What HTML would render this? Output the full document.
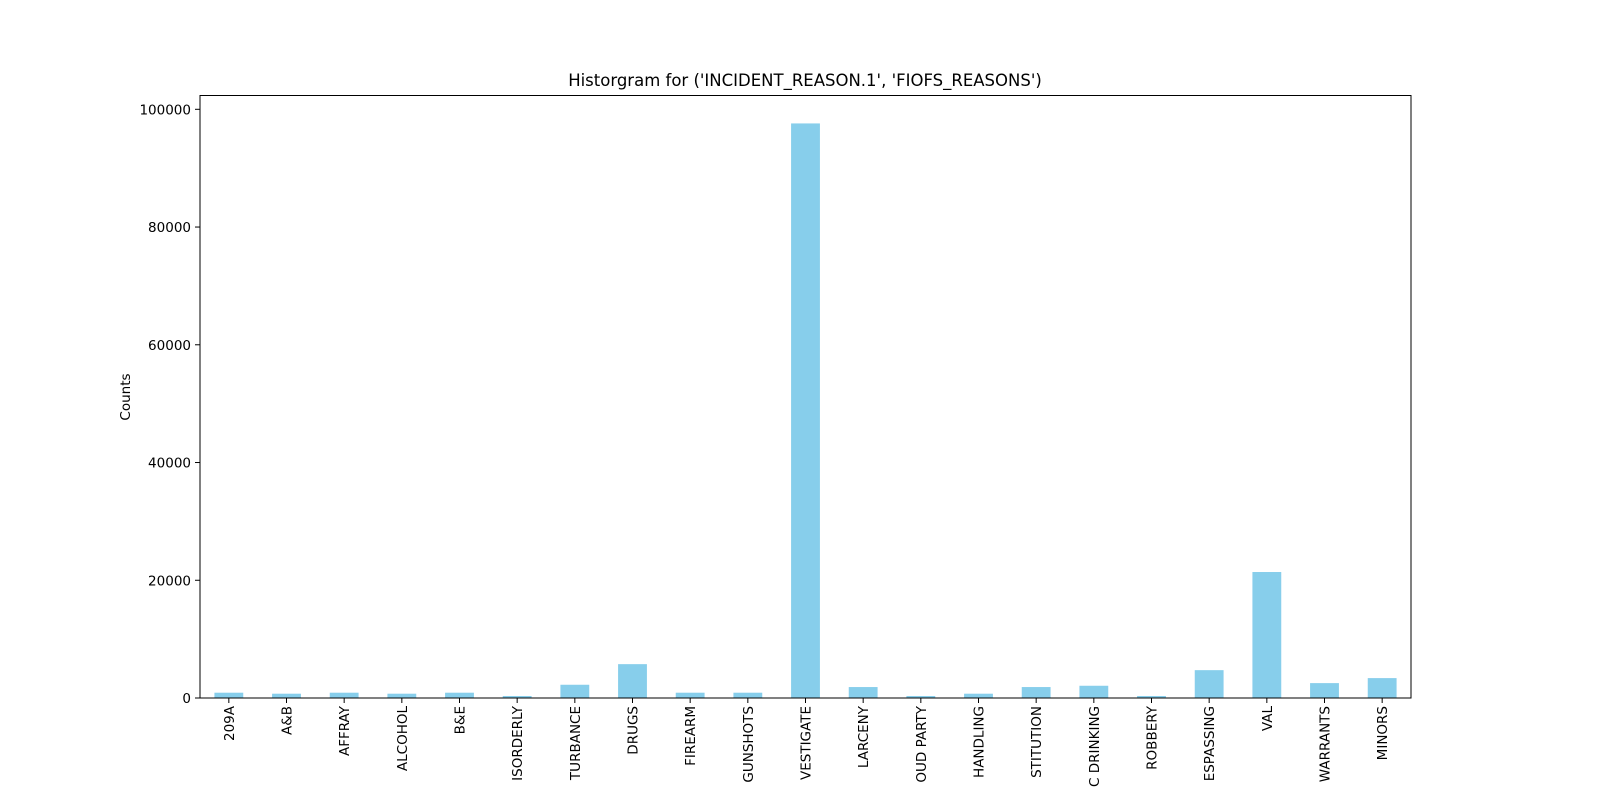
<!DOCTYPE html>
<html><head><meta charset="utf-8"><style>
html,body{margin:0;padding:0;background:#fff;width:1600px;height:800px;overflow:hidden;}
svg{display:block;overflow:hidden;font-family:"DejaVu Sans","Liberation Sans",sans-serif;}
</style></head><body>
<svg id="chart" width="1600" height="800" viewBox="0 0 1600 800">
<rect x="0" y="0" width="1600" height="800" fill="#fff"/>
<text x="805" y="86" font-size="16.5" text-anchor="middle">Historgram for ('INCIDENT_REASON.1', 'FIOFS_REASONS')</text>
<text transform="translate(130,397) rotate(-90)" font-size="13.5" text-anchor="middle">Counts</text>
<g id="bars"></g>
<g id="yticks"></g>
<g id="xticks"></g>
<rect x="200" y="95.5" width="1211" height="602.5" fill="none" stroke="#000" stroke-width="1"/>
</svg>
<script>
const categories = ["209A","A&B","AFFRAY","ALCOHOL","B&E","ISORDERLY","TURBANCE","DRUGS","FIREARM","GUNSHOTS","VESTIGATE","LARCENY","OUD PARTY","HANDLING","STITUTION","C DRINKING","ROBBERY","ESPASSING","VAL","WARRANTS","MINORS"];
const counts = [900,730,900,730,900,340,2250,5750,900,900,97600,1860,340,730,1860,2080,340,4730,21400,2530,3380];
const yTickValues = [0,20000,40000,60000,80000,100000];
const yTickLabels = ["0","20000","40000","60000","80000","100000"];

const NS = "http://www.w3.org/2000/svg";
const left = 200, right = 1411, y0 = 698, yMaxPx = 109.3, yMaxVal = 100000;
const n = categories.length;
const step = (right - left) / n;
function xPos(i){ return left + step * (i + 0.5); }
function yPos(v){ return y0 - (y0 - yMaxPx) * v / yMaxVal; }

const bars = document.getElementById('bars');
const xt = document.getElementById('xticks');
const yt = document.getElementById('yticks');
const bw = step * 0.5;
categories.forEach((c, i) => {
  const r = document.createElementNS(NS, 'rect');
  const y = yPos(counts[i]);
  r.setAttribute('x', xPos(i) - bw / 2);
  r.setAttribute('y', y);
  r.setAttribute('width', bw);
  r.setAttribute('height', y0 - y);
  r.setAttribute('fill', '#87ceeb');
  
  
  bars.appendChild(r);
  const t = document.createElementNS(NS, 'line');
  t.setAttribute('x1', xPos(i)); t.setAttribute('x2', xPos(i));
  t.setAttribute('y1', y0); t.setAttribute('y2', y0 + 5);
  t.setAttribute('stroke', '#000');
  
  
  xt.appendChild(t);
  const l = document.createElementNS(NS, 'text');
  l.setAttribute('transform', 'translate(' + (xPos(i) + 5) + ',' + (y0 + 8) + ') rotate(-90)');
  l.setAttribute('font-size', '13.5');
  l.setAttribute('text-anchor', 'end');
  l.textContent = c;
  
  
  xt.appendChild(l);
});
yTickValues.forEach((v, i) => {
  const y = yPos(v);
  const t = document.createElementNS(NS, 'line');
  t.setAttribute('x1', left - 5); t.setAttribute('x2', left);
  t.setAttribute('y1', y); t.setAttribute('y2', y);
  t.setAttribute('stroke', '#000');
  
  
  yt.appendChild(t);
  const l = document.createElementNS(NS, 'text');
  l.setAttribute('x', left - 9);
  l.setAttribute('y', y + 5);
  l.setAttribute('font-size', '13.5');
  l.setAttribute('text-anchor', 'end');
  l.textContent = yTickLabels[i];
  
  
  yt.appendChild(l);
});
</script>
</body></html>
